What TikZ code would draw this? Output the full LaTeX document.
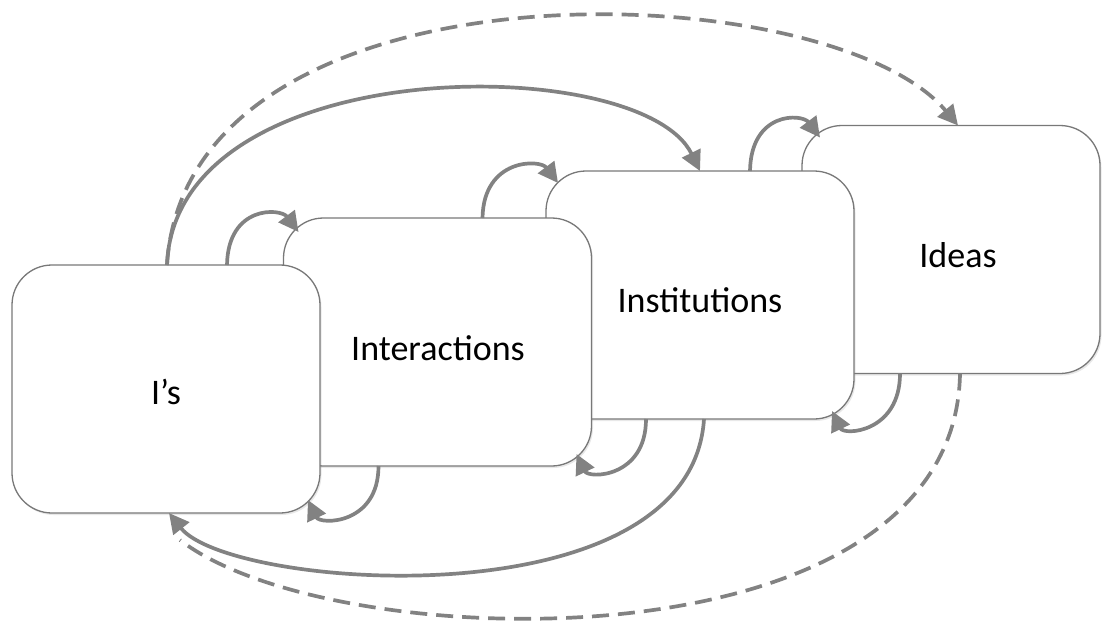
\documentclass[tikz,border=0pt]{standalone}
\usepackage{fontspec}
\setmainfont{Carlito}
\usetikzlibrary{arrows.meta,calc,shadows}
\definecolor{linegray}{RGB}{130,130,130}
\definecolor{boxgray}{RGB}{120,120,120}
\begin{document}
\begin{tikzpicture}[x=1pt,y=-1pt,
  card/.style={draw=boxgray, line width=1.3pt, fill=white, rounded corners=40pt,
    minimum width=308pt, minimum height=248pt, inner sep=0pt, outer sep=0pt,
    drop shadow={opacity=0.18, shadow xshift=1.5pt, shadow yshift=-2pt}},
  tag/.style={font=\fontsize{36}{42}\selectfont, text=black},
  link/.style={draw=linegray, line width=3.7pt},
  tip/.style={-{Triangle[length=20pt,width=20pt]}},
  flow/.style={link, dash pattern=on 17pt off 9pt}]
\useasboundingbox (0,0) rectangle (1102,627);

% the four cards, back to front
\node[card, minimum width=298pt] (ideas) at (951,249.5) {};
\node[card] (inst)  at (700,295) {};
\node[card] (inter) at (437.5,342) {};
\node[card] (is)    at (166,389) {};

\node[tag] (tIdeas) at (958,255) {Ideas};
\node[tag] (tInst)  at (700,300) {Institutions};
\node[tag] (tInter) at (438,348) {Interactions};
\node[tag] (tIs)    at (166,392) {I’s};

% attachment points
\coordinate (a1) at ($(is.north west)+(215,0)$);
\coordinate (e1) at ($(inter.north west)+(15,14)$);
\coordinate (a2) at ($(inter.north west)+(199,0)$);
\coordinate (e2) at ($(inst.north west)+(12,12)$);
\coordinate (a3) at ($(inst.north west)+(204,0)$);
\coordinate (e3) at ($(ideas.north west)+(18,12)$);

\coordinate (b1) at ($(inter.south west)+(95,0)$);
\coordinate (f1) at ($(is.south east)+(-12,-13)$);
\coordinate (b2) at ($(inst.south west)+(100,0)$);
\coordinate (f2) at ($(inter.south east)+(-15,-12)$);
\coordinate (b3) at ($(ideas.south west)+(98,0)$);
\coordinate (f3) at ($(inst.south east)+(-22,-8)$);

\coordinate (isTop)    at ($(is.north west)+(155,0)$);
\coordinate (instTop)  at ($(inst.north west)+(154,0)$);
\coordinate (ideasTop) at ($(ideas.north west)+(156,0)$);
\coordinate (instBot)  at ($(inst.south west)+(158,0)$);
\coordinate (ideasBot) at ($(ideas.south west)+(158,0)$);
\coordinate (isBot)    at ($(is.south west)+(157,0)$);
\coordinate (dashEnd)  at ($(is.south west)+(168,27)$);

% small feedback loops over the top
\draw[link, tip] (a1) .. controls +(1,-60) and +(-18,-24) .. (e1);
\draw[link, tip] (a2) .. controls +(1,-60) and +(-18,-24) .. (e2);
\draw[link, tip] (a3) .. controls +(1,-60) and +(-18,-24) .. (e3);

% small feedback loops underneath
\draw[link, tip] (b1) .. controls +(0,59) and +(12,25) .. (f1);
\draw[link, tip] (b2) .. controls +(0,59) and +(12,25) .. (f2);
\draw[link, tip] (b3) .. controls +(0,59) and +(12,25) .. (f3);

% long arcs
\draw[link, tip] (isTop) .. controls +(8,-215) and +(-59,-120) .. (instTop);
\draw[flow, tip] (isTop) .. controls +(20,-315) and +(-128,-153) .. (ideasTop);
\draw[link, tip] (instBot) .. controls +(-13,205) and +(61,77) .. (isBot);
\draw[flow] (ideasBot) .. controls +(-5,300) and +(152,118) .. (dashEnd);
\end{tikzpicture}
\end{document}
